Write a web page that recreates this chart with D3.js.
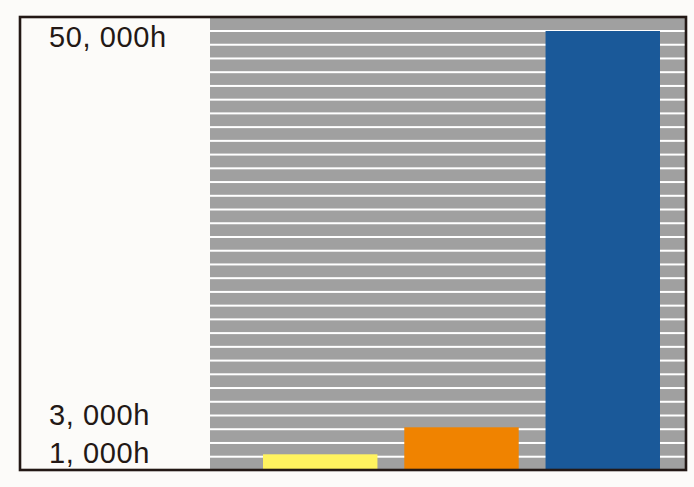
<!DOCTYPE html>
<html><head><meta charset="utf-8">
<script src="https://cdn.jsdelivr.net/npm/d3@7"></script>
<style>html,body{margin:0;padding:0;background:#fcfbf9;}svg{display:block;}</style>
</head><body>
<script>
const categories = ["A", "B", "C"];
const hours = [1000, 3000, 50000];
const barColors = ["#fff35f", "#f08300", "#1a5999"];
const tickValues = [1000, 3000, 50000];
const tickLabels = ["1, 000h", "3, 000h", "50, 000h"];
const stripeCount = 32;

const W = 694, H = 487;
const svg = d3.select("body").append("svg").attr("width", W).attr("height", H);
svg.append("rect").attr("width", W).attr("height", H).attr("fill", "#fcfbf9");

const frame = {x0: 20, y0: 17, x1: 686, y1: 470};
const plot = {x0: 210, x1: 685, top: 18, bottom: 469};

// piecewise (broken) value scale
const y = d3.scaleLinear().domain([0, 1000, 3000, 50000]).range([469, 454.3, 427.3, 31]);
// label placement scale (labels are schematic, not aligned to bar tops)
const yLabel = d3.scaleLinear().domain([1000, 3000, 50000]).range([463, 425, 47]);
const x = d3.scaleBand().domain(categories).range([239, 684]).paddingInner(0.19).paddingOuter(0.17);

// gray plot background
svg.append("rect").attr("x", plot.x0).attr("y", plot.top)
  .attr("width", plot.x1 - plot.x0).attr("height", plot.bottom - plot.top).attr("fill", "#a0a0a0");

// white stripes
const stripeScale = d3.scaleLinear().domain([0, stripeCount - 1]).range([31, 456.7]);
svg.append("g").selectAll("rect").data(d3.range(stripeCount)).join("rect")
  .attr("x", plot.x0).attr("width", plot.x1 - plot.x0)
  .attr("y", d => stripeScale(d) - 1).attr("height", 2).attr("fill", "#ffffff");

// bars
svg.append("g").selectAll("rect").data(hours).join("rect")
  .attr("x", (d, i) => x(categories[i])).attr("width", x.bandwidth())
  .attr("y", d => y(d)).attr("height", d => y(0) - y(d))
  .attr("fill", (d, i) => barColors[i]);

// labels
svg.append("g").selectAll("text").data(tickValues).join("text")
  .attr("x", 49).attr("y", d => yLabel(d))
  .attr("font-family", "Liberation Sans, Arial, sans-serif").attr("font-size", 29)
  .attr("letter-spacing", 0.6)
  .attr("fill", "#231815")
  .text((d, i) => tickLabels[i]);

// frame
svg.append("rect").attr("x", frame.x0).attr("y", frame.y0)
  .attr("width", frame.x1 - frame.x0).attr("height", frame.y1 - frame.y0)
  .attr("fill", "none").attr("stroke", "#231815").attr("stroke-width", 2.6);
</script>
</body></html>
